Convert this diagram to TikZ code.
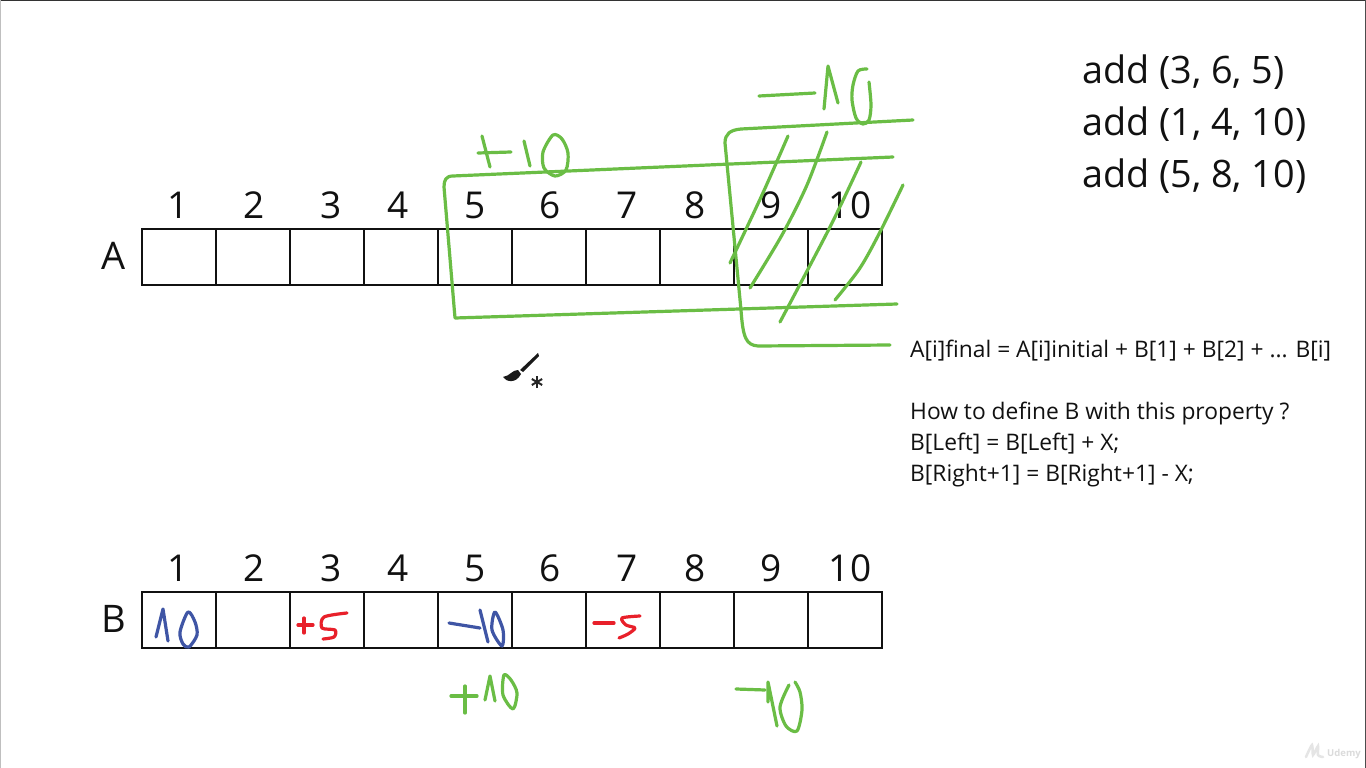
\documentclass[tikz,border=0pt]{standalone}
\usepackage{fontspec}
\setmainfont{Open Sans}
\definecolor{pengreen}{HTML}{6ABD45}
\definecolor{penblue}{HTML}{3F55A5}
\definecolor{penred}{HTML}{E8202A}
\definecolor{ink}{HTML}{111111}
\tikzset{
  cellbox/.style={draw=ink,line width=2pt,minimum width=74pt,minimum height=56pt,inner sep=0pt,outer sep=0pt},
  numlabel/.style={anchor=base,font=\fontsize{37}{37}\selectfont,text=ink,inner sep=0pt},
  rowlabel/.style={anchor=base,font=\fontsize{38}{38}\selectfont,text=ink,inner sep=0pt},
  addtext/.style={anchor=base west,font=\fontsize{37.8}{37.8}\selectfont,text=ink,inner sep=0pt},
  notetext/.style={anchor=base west,font=\fontsize{22.8}{22.8}\selectfont,text=ink,inner sep=0pt},
  greenpen/.style={draw=pengreen,line width=3.2pt,line cap=round,line join=round},
  bluepen/.style={draw=penblue,line width=3.2pt,line cap=round,line join=round},
  redpen/.style={draw=penred,line width=3.2pt,line cap=round,line join=round},
}
\begin{document}
\begin{tikzpicture}[x=1pt,y=-1pt]
\useasboundingbox (0,0) rectangle (1366,768);
\fill[white] (0,0) rectangle (1366,768);
\draw[black!80,line width=1.5pt] (0,0.5) -- (1366,0.5);
\draw[black!25,line width=1.5pt] (0.7,0) -- (0.7,768);
\draw[black!70,line width=1.5pt] (1365.3,0) -- (1365.3,768);

% cells
\foreach \i in {1,...,10} {
  \node[cellbox] (A\i) at ({142+74*(\i-1)+37},257) {};
  \node[cellbox] (B\i) at ({142+74*(\i-1)+37},620) {};
}
% numbers
\foreach \i/\x in {1/178,2/254,3/331,4/398,5/475,6/550,7/627,8/695,9/771,10/850} {
  \node[numlabel] (la\i) at (\x,218) {\i};
  \node[numlabel] (lb\i) at (\x,581) {\i};
}
\node[rowlabel] (rowA) at (114,269) {A};
\node[rowlabel] (rowB) at (114,632) {B};

% right-hand text
\node[addtext] (add1) at (1082,84) {add (3, 6, 5)};
\node[addtext] (add2) at (1082,135) {add (1, 4, 10)};
\node[addtext] (add3) at (1082,187) {add (5, 8, 10)};
\node[notetext] (n1) at (910,357) {A[i]final = A[i]initial + B[1] + B[2] + ... B[i]};
\node[notetext] (n2) at (910,419) {How to define B with this property ?};
\node[notetext] (n3) at (910,450) {B[Left] = B[Left] + X;};
\node[notetext] (n4) at (910,481) {B[Right+1] = B[Right+1] - X;};

% green frames
\draw[greenpen] (893,157) -- (453,176) .. controls (446,176) and (444,180) .. (444,187) -- (455,318) -- (897,304);
\draw[greenpen] (913,120) -- (741,129) .. controls (730,130) and (725,134) .. (725,143) -- (741,310) .. controls (743,338) and (746,345) .. (758,346) -- (890,345);
% hatching
\draw[greenpen] plot[smooth] coordinates {(788,136) (762,195) (730,263)};
\draw[greenpen] plot[smooth] coordinates {(827,132) (807,185) (782,235) (750,288)};
\draw[greenpen] plot[smooth] coordinates {(861,162) (830,227) (780,322)};
\draw[greenpen] plot[smooth] coordinates {(903,185) (880,232) (860,268) (835,300)};

% +10 above A
\draw[greenpen] (478,153) -- (511,152);
\draw[greenpen] (482,136) -- (490,167);
\draw[greenpen] (524,141) -- (530,166);
\draw[greenpen] plot[smooth cycle] coordinates {(553,135) (543,152) (544,168) (555,176) (566,170) (568,153) (562,139)};
% -10 above
\draw[greenpen] (759,96) -- (815,93);
\draw[greenpen] (824,109) -- (828,66) -- (838,103);
\draw[greenpen] plot[smooth] coordinates {(867,69) (858,71) (853,85) (852,100) (856,118) (863,124) (869,120) (871,105) (869,82)};

% B row handwriting
\draw[bluepen] (156,637) -- (163,609) -- (168,641);
\draw[bluepen] plot[smooth cycle] coordinates {(188,612) (180,632) (183,644) (189,647) (197,635) (195,622)};
\draw[redpen] (298,625) -- (313,625);
\draw[redpen] (304,618) -- (304,633);
\draw[redpen] plot[smooth] coordinates {(347,613) (324,617) (322,628) (335,630) (334,637) (323,639)};
\draw[bluepen] (449,623) -- (480,628);
\draw[bluepen] (480,610) -- (488,642);
\draw[bluepen] plot[smooth cycle] coordinates {(495,612) (492,630) (502,646) (503,630)};
\draw[redpen] (594,623) -- (614,623);
\draw[redpen] plot[smooth] coordinates {(640,616) (622,618) (626,625) (635,628) (628,634) (619,638)};
\draw[greenpen] (451,696) -- (477,696);
\draw[greenpen] (465,686) -- (465,713);
\draw[greenpen] (485,700) -- (490,676) -- (495,701);
\draw[greenpen] plot[smooth cycle] coordinates {(504,675) (503,695) (513,709) (517,693) (511,680)};
\draw[greenpen] (736,689) -- (765,690);
\draw[greenpen] (768,702) -- (768,682) -- (777,726);
\draw[greenpen] plot[smooth] coordinates {(789,685) (780,707) (786,726) (797,731) (802,710) (800,692) (795,682)};

% brush cursor
\fill[black!90] (538,353) -- (539,356) -- (523,372) -- (520,370) -- cycle;
\fill[black!90] (518,370) .. controls (512,370) and (510,376) .. (503,377) .. controls (506,382) and (516,384) .. (521,374) -- cycle;
\foreach \a in {0,60,120} {
  \draw[black!85,line width=2pt] (537,382) ++(\a+30:6) -- ++(\a+210:12);
}

% watermark
\draw[black!10,line width=2.5pt,line cap=round] plot[smooth] coordinates {(1306,757) (1312,745) (1313,755) (1318,746) (1318,755) (1323,757)};
\node[anchor=base west,font=\fontsize{9.5}{9.5}\selectfont\bfseries,text=black!14,inner sep=0pt] (wm) at (1327,756) {Udemy};
\end{tikzpicture}
\end{document}
